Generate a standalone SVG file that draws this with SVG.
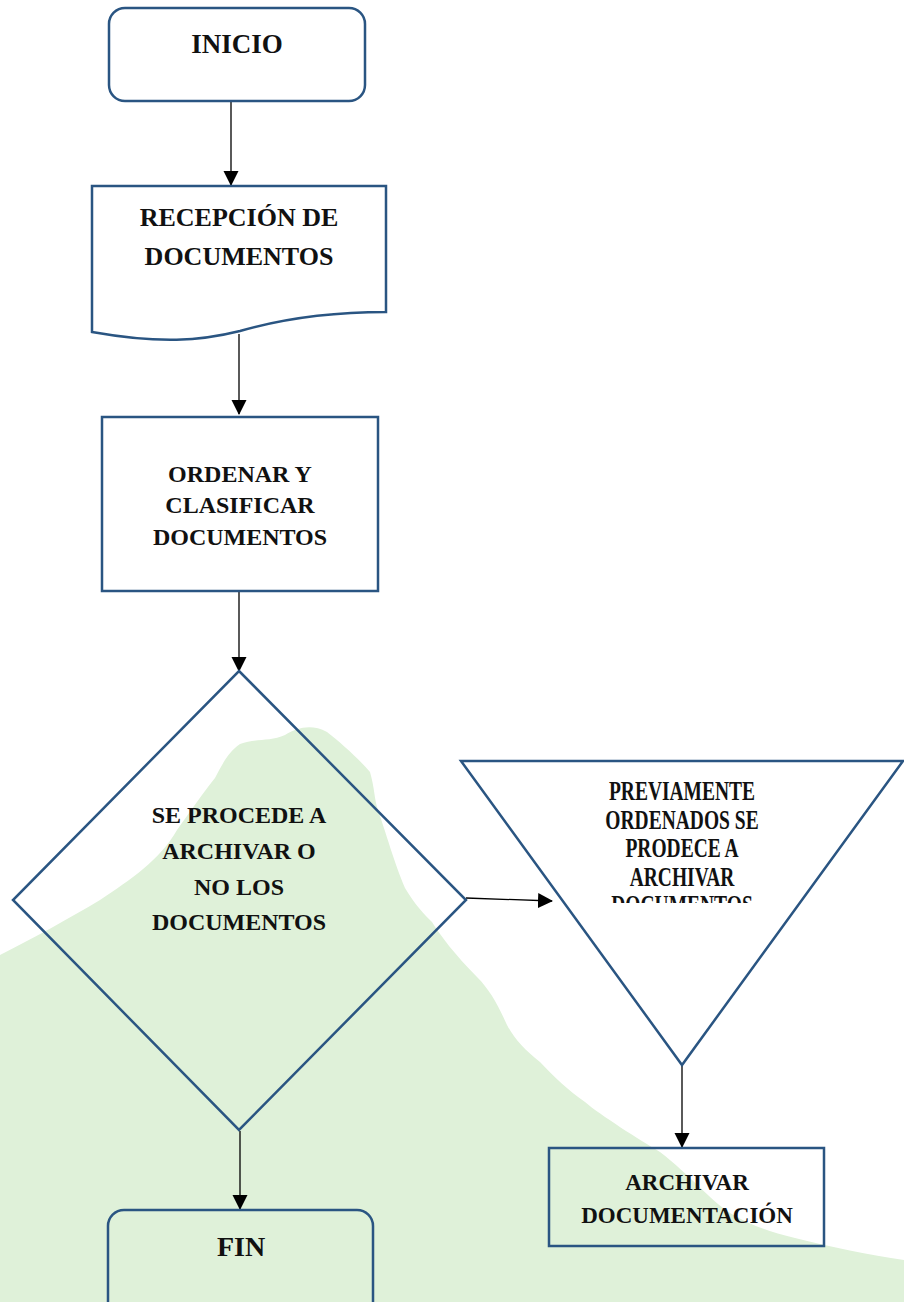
<svg xmlns="http://www.w3.org/2000/svg" width="904" height="1302" viewBox="0 0 904 1302">
<defs>
<style>
.shape{fill:none;stroke:#2a5582;stroke-width:2.5;stroke-linejoin:miter}
.conn{fill:none;stroke:#000;stroke-width:1.3}
.t{font-family:"Liberation Serif","DejaVu Serif",serif;font-weight:bold;fill:#111;text-anchor:middle}
</style>
<marker id="arr" markerUnits="userSpaceOnUse" markerWidth="16" markerHeight="16" refX="14" refY="7.5" orient="auto">
<path d="M0,0 L15,7.5 L0,15 Z" fill="#000"/>
</marker>
<clipPath id="triclip"><rect x="560" y="760" width="250" height="143"/></clipPath>
</defs>
<rect width="904" height="1302" fill="#fff"/>
<path id="blob" fill="#dff1d9" d="M0,955 C30,940 70,918 100,900 C130,880 160,860 177,830 C190,812 205,790 215,778 C222,765 228,752 240,744 C255,738 270,742 285,735 C298,727 312,724 327,732 C340,742 358,758 370,772 C375,790 374,798 378,810 C385,830 395,865 405,888 C415,905 425,915 432,922 C440,935 455,955 477,977 C490,990 498,1005 507,1025 C515,1040 525,1050 540,1062 C555,1078 568,1090 585,1102 C600,1115 640,1140 660,1152 C690,1175 710,1200 730,1213 C750,1225 770,1232 795,1238 C830,1247 870,1255 904,1260 L904,1302 L0,1302 Z"/>
<g id="connectors">
<line class="conn" x1="231" y1="102" x2="231" y2="185" marker-end="url(#arr)"/>
<line class="conn" x1="239" y1="334" x2="239" y2="414" marker-end="url(#arr)"/>
<line class="conn" x1="239" y1="592" x2="239" y2="671" marker-end="url(#arr)"/>
<line class="conn" x1="466" y1="898" x2="552" y2="901" marker-end="url(#arr)"/>
<line class="conn" x1="682" y1="1066" x2="682" y2="1147" marker-end="url(#arr)"/>
<line class="conn" x1="240" y1="1131" x2="240" y2="1209" marker-end="url(#arr)"/>
</g>
<g id="inicio">
<rect class="shape" x="109" y="8" width="256" height="93" rx="16"/>
<text class="t" x="237" y="53" font-size="27">INICIO</text>
</g>
<g id="recepcion">
<path class="shape" d="M92,186 H386 V312 C330,312 285,318 240,331 C200,341 160,344 92,332 Z"/>
<text class="t" x="239" y="226" font-size="26">RECEPCIÓN DE</text>
<text class="t" x="239" y="265" font-size="26">DOCUMENTOS</text>
</g>
<g id="ordenar">
<rect class="shape" x="102" y="417" width="276" height="174"/>
<text class="t" x="240" y="482" font-size="24">ORDENAR Y</text>
<text class="t" x="240" y="513" font-size="24">CLASIFICAR</text>
<text class="t" x="240" y="545" font-size="24">DOCUMENTOS</text>
</g>
<g id="decision">
<path class="shape" d="M239,671 L466,900 L239,1130 L13,900 Z"/>
<text class="t" x="239" y="823" font-size="24">SE PROCEDE A</text>
<text class="t" x="239" y="859" font-size="24">ARCHIVAR O</text>
<text class="t" x="239" y="895" font-size="24">NO LOS</text>
<text class="t" x="239" y="930" font-size="24">DOCUMENTOS</text>
</g>
<g id="previamente">
<path class="shape" d="M461,761 L903,761 L682,1065 Z"/>
<g clip-path="url(#triclip)">
<text class="t" font-size="19.5" transform="translate(682,800) scale(1,1.35)">PREVIAMENTE</text>
<text class="t" font-size="19.5" transform="translate(682,828.5) scale(1,1.35)">ORDENADOS SE</text>
<text class="t" font-size="19.5" transform="translate(682,857) scale(1,1.35)">PRODECE A</text>
<text class="t" font-size="19.5" transform="translate(682,885.5) scale(1,1.35)">ARCHIVAR</text>
<text class="t" font-size="19.5" transform="translate(682,914) scale(1,1.35)">DOCUMENTOS</text>
</g>
</g>
<g id="archivar">
<rect class="shape" x="549" y="1148" width="275" height="98"/>
<text class="t" x="687" y="1190" font-size="23">ARCHIVAR</text>
<text class="t" x="687" y="1223" font-size="23">DOCUMENTACIÓN</text>
</g>
<g id="fin">
<rect class="shape" x="108" y="1210" width="265" height="120" rx="16"/>
<text class="t" x="241" y="1256" font-size="28">FIN</text>
</g>
</svg>
